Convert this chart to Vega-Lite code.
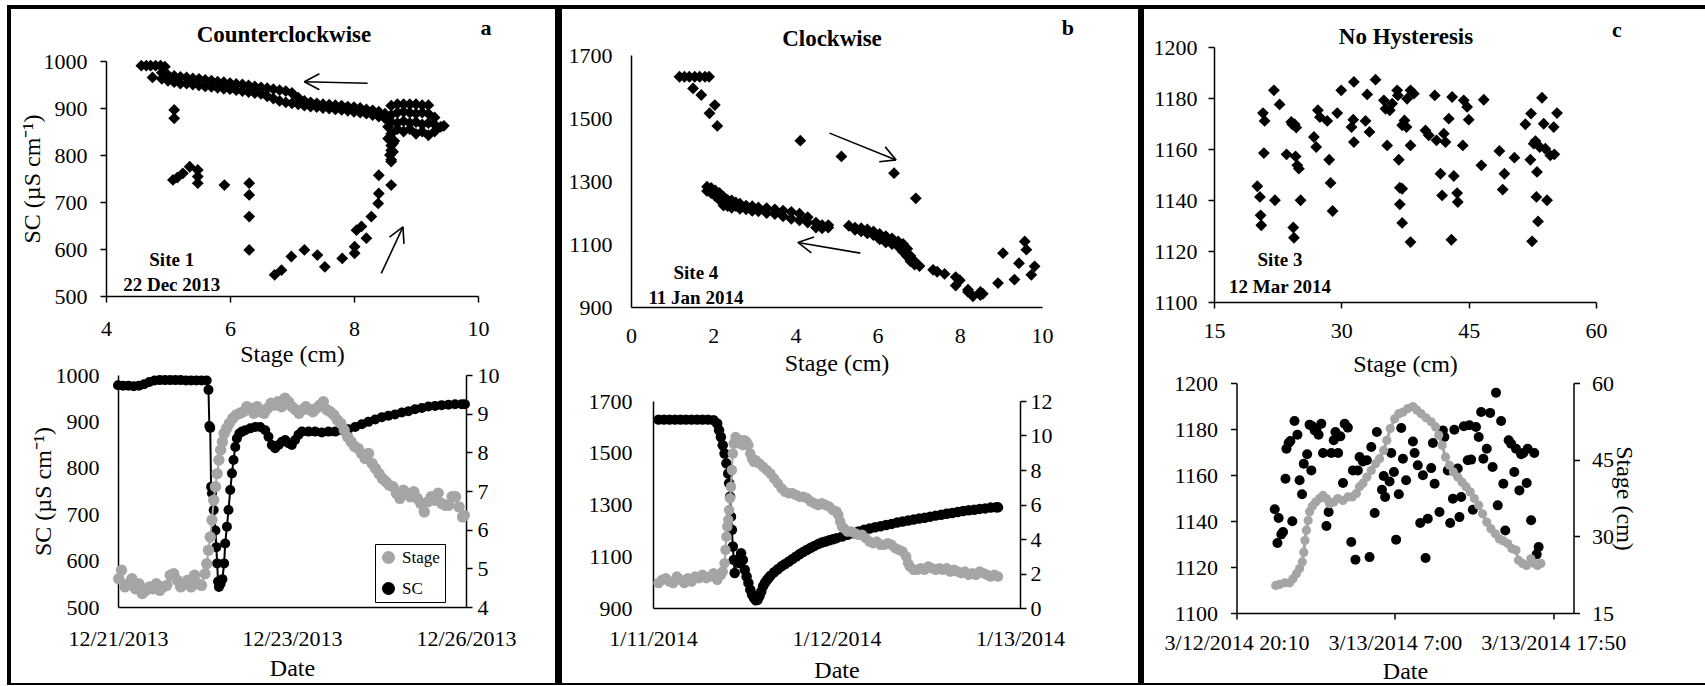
{
  "$schema": "https://vega.github.io/schema/vega-lite/v6.json",
  "padding": {"left": 7, "top": 5, "right": 0, "bottom": 0},
  "background": "white",
  "config": {
    "font": "Liberation Serif",
    "view": {"stroke": null},
    "axis": {"labelFont": "Liberation Serif", "titleFont": "Liberation Serif", "labelFontSize": 22, "titleFontSize": 24, "titleFontWeight": "normal", "labelColor": "black", "titleColor": "black", "domainColor": "black", "tickColor": "black", "domainWidth": 1.5, "tickWidth": 1.5, "grid": false, "labelFlush": false, "labelOverlap": false, "labelBound": false},
    "legend": {"labelFont": "Liberation Serif", "labelFontSize": 17, "labelColor": "black"}
  },
  "spacing": 0,
  "vconcat": [
    {"width": 1698, "height": 4, "view": {"fill": "black"}, "data": {"values": [{}]}, "mark": {"type": "point", "opacity": 0, "size": 0, "strokeWidth": 0}, "encoding": {}},
    {
      "spacing": 0,
      "hconcat": [
        {"width": 4, "height": 674, "view": {"fill": "black"}, "data": {"values": [{}]}, "mark": {"type": "point", "opacity": 0, "size": 0, "strokeWidth": 0}, "encoding": {}},
        {"width": 9, "height": 100, "data": {"values": [{}]}, "mark": {"type": "point", "opacity": 0, "size": 0, "strokeWidth": 0}, "encoding": {}},
        {
          "spacing": 0, "bounds": "flush", "center": true,
          "vconcat": [
            {"width": 10, "height": 52, "data": {"values": [{}]}, "mark": {"type": "point", "opacity": 0, "size": 0, "strokeWidth": 0}, "encoding": {}},
            {
              "width": 372, "height": 235,
              "encoding": {
                "x": {"field": "stage", "type": "quantitative", "scale": {"domain": [4, 10], "nice": false, "zero": false},
                      "axis": {"title": "Stage (cm)", "values": [4, 6, 8, 10], "tickSize": 6, "labelPadding": 16, "titlePadding": 0, "minExtent": 46, "maxExtent": 46}},
                "y": {"field": "sc", "type": "quantitative", "scale": {"domain": [500, 1000], "nice": false, "zero": false},
                      "axis": {"title": "SC (µS cm⁻¹)", "format": "d", "values": [500, 600, 700, 800, 900, 1000], "tickSize": 6, "labelPadding": 13, "titlePadding": 12, "minExtent": 50, "maxExtent": 50}}
              },
              "layer": [
                {
                  "data": {"values": [
                    {"stage":4.57,"sc":990},{"stage":4.65,"sc":990},{"stage":4.72,"sc":990},{"stage":4.8,"sc":990},{"stage":4.88,"sc":990},{"stage":4.95,"sc":988},{"stage":4.75,"sc":965},
                    {"stage":4.9,"sc":975},{"stage":4.9,"sc":962},{"stage":5.0,"sc":970},{"stage":5.0,"sc":958},{"stage":5.1,"sc":968},{"stage":5.1,"sc":955},{"stage":5.2,"sc":966},{"stage":5.2,"sc":952},{"stage":5.3,"sc":965},{"stage":5.3,"sc":952},{"stage":5.4,"sc":963},{"stage":5.4,"sc":950},{"stage":5.5,"sc":962},{"stage":5.5,"sc":948},{"stage":5.6,"sc":960},{"stage":5.6,"sc":946},{"stage":5.7,"sc":958},{"stage":5.7,"sc":945},{"stage":5.8,"sc":956},{"stage":5.8,"sc":943},{"stage":5.9,"sc":955},{"stage":5.9,"sc":941},{"stage":6.0,"sc":953},{"stage":6.0,"sc":940},{"stage":6.1,"sc":951},{"stage":6.1,"sc":938},{"stage":6.2,"sc":950},{"stage":6.2,"sc":936},{"stage":6.3,"sc":948},{"stage":6.3,"sc":934},{"stage":6.4,"sc":946},{"stage":6.4,"sc":932},{"stage":6.5,"sc":944},{"stage":6.5,"sc":930},{"stage":6.6,"sc":942},{"stage":6.6,"sc":925},{"stage":6.7,"sc":940},{"stage":6.7,"sc":920},{"stage":6.8,"sc":938},{"stage":6.8,"sc":915},{"stage":6.9,"sc":936},{"stage":6.9,"sc":912},{"stage":7.0,"sc":932},{"stage":7.0,"sc":910},{"stage":7.1,"sc":922},{"stage":7.1,"sc":908},{"stage":7.2,"sc":915},{"stage":7.2,"sc":905},{"stage":7.3,"sc":912},{"stage":7.3,"sc":903},{"stage":7.4,"sc":910},{"stage":7.4,"sc":902},{"stage":7.5,"sc":908},{"stage":7.5,"sc":900},{"stage":7.6,"sc":907},{"stage":7.6,"sc":899},{"stage":7.7,"sc":906},{"stage":7.7,"sc":897},{"stage":7.8,"sc":905},{"stage":7.8,"sc":896},{"stage":7.9,"sc":903},{"stage":7.9,"sc":894},{"stage":8.0,"sc":902},{"stage":8.0,"sc":892},{"stage":8.1,"sc":900},{"stage":8.1,"sc":890},{"stage":8.2,"sc":897},{"stage":8.2,"sc":888},{"stage":8.3,"sc":895},{"stage":8.3,"sc":885},{"stage":8.4,"sc":892},{"stage":8.4,"sc":882},{"stage":8.5,"sc":888},{"stage":8.5,"sc":878},
                    {"stage":8.6,"sc":905},{"stage":8.7,"sc":908},{"stage":8.8,"sc":908},{"stage":8.9,"sc":908},{"stage":9.0,"sc":908},{"stage":9.1,"sc":906},{"stage":9.2,"sc":906},{"stage":8.6,"sc":885},{"stage":8.7,"sc":890},{"stage":8.8,"sc":892},{"stage":8.9,"sc":890},{"stage":9.0,"sc":888},{"stage":9.1,"sc":890},{"stage":9.2,"sc":888},{"stage":9.3,"sc":880},{"stage":8.6,"sc":870},{"stage":8.7,"sc":868},{"stage":8.8,"sc":872},{"stage":8.9,"sc":868},{"stage":9.0,"sc":870},{"stage":9.1,"sc":865},{"stage":9.2,"sc":868},{"stage":9.3,"sc":865},{"stage":9.4,"sc":860},{"stage":9.45,"sc":862},{"stage":8.7,"sc":855},{"stage":8.8,"sc":850},{"stage":8.9,"sc":855},{"stage":9.0,"sc":845},{"stage":9.1,"sc":850},{"stage":9.2,"sc":842},{"stage":9.3,"sc":850},{"stage":8.55,"sc":860},{"stage":8.6,"sc":845},{"stage":8.65,"sc":830},{"stage":8.55,"sc":835},{"stage":8.6,"sc":820},{"stage":8.6,"sc":810},{"stage":8.58,"sc":800},{"stage":8.6,"sc":790},
                    {"stage":5.1,"sc":896},{"stage":5.1,"sc":878},{"stage":5.08,"sc":747},{"stage":5.15,"sc":752},{"stage":5.24,"sc":761},{"stage":5.35,"sc":775},{"stage":5.48,"sc":768},{"stage":5.48,"sc":754},{"stage":5.48,"sc":740},{"stage":5.91,"sc":736},{"stage":6.31,"sc":740},{"stage":6.31,"sc":715},{"stage":6.31,"sc":669},{"stage":6.31,"sc":598},{"stage":6.72,"sc":545},{"stage":6.83,"sc":555},{"stage":6.99,"sc":584},{"stage":7.2,"sc":598},{"stage":7.41,"sc":587},{"stage":7.53,"sc":562},{"stage":7.81,"sc":580},{"stage":8.01,"sc":591},{"stage":8.01,"sc":605},{"stage":8.04,"sc":640},{"stage":8.12,"sc":648},{"stage":8.2,"sc":623},{"stage":8.28,"sc":669},{"stage":8.39,"sc":697},{"stage":8.4,"sc":718},{"stage":8.4,"sc":757},{"stage":8.6,"sc":736},{"stage":8.6,"sc":786},{"stage":8.63,"sc":807},{"stage":8.63,"sc":825},{"stage":8.57,"sc":835}
                  ]},
                  "mark": {"type": "point", "shape": "diamond", "filled": true, "size": 140, "color": "black", "opacity": 1}
                },
                {
                  "data": {"values": [
                    {"stage":8.22,"sc":952.5,"stage2":7.2,"sc2":956},{"stage":7.2,"sc":956,"stage2":7.442,"sc2":973},{"stage":7.2,"sc":956,"stage2":7.442,"sc2":939},
                    {"stage":8.44,"sc":548,"stage2":8.79,"sc2":647},{"stage":8.79,"sc":647,"stage2":8.806,"sc2":610.9},{"stage":8.79,"sc":647,"stage2":8.572,"sc2":625.3}
                  ]},
                  "mark": {"type": "rule", "color": "black", "strokeWidth": 1.6},
                  "encoding": {"x2": {"field": "stage2"}, "y2": {"field": "sc2"}}
                },
                {
                  "data": {"values": [{"stage":5.06,"sc":576.6,"label":"Site 1"},{"stage":5.06,"sc":523.4,"label":"22 Dec 2013"}]},
                  "mark": {"type": "text", "font": "Liberation Serif", "fontWeight": "bold", "fontSize": 19, "color": "black"},
                  "encoding": {"text": {"field": "label"}}
                },
                {
                  "data": {"values": [{"stage":10.13,"sc":1070,"label":"a"}]},
                  "mark": {"type": "text", "font": "Liberation Serif", "fontWeight": "bold", "fontSize": 22, "color": "black"},
                  "encoding": {"text": {"field": "label"}}
                },
                {
                  "data": {"values": [{"stage":6.87,"sc":1055,"label":"Counterclockwise"}]},
                  "mark": {"type": "text", "font": "Liberation Serif", "fontWeight": "bold", "fontSize": 23, "color": "black"},
                  "encoding": {"text": {"field": "label"}}
                }
              ]
            },
            {"width": 10, "height": 79, "data": {"values": [{}]}, "mark": {"type": "point", "opacity": 0, "size": 0, "strokeWidth": 0}, "encoding": {}},
            {
              "width": 348, "height": 232,
              "encoding": {
                "x": {"field": "obs", "type": "quantitative", "scale": {"domain": [0, 200], "nice": false, "zero": false},
                      "axis": {"title": "Date", "values": [0, 100, 200], "labelExpr": "datum.value == 0 ? '12/21/2013' : datum.value == 100 ? '12/23/2013' : '12/26/2013'", "ticks": false, "tickSize": 0, "labelPadding": 21, "titlePadding": 0, "minExtent": 49, "maxExtent": 49}}
              },
              "layer": [
                {
                  "data": {"values": [
                    {"obs":0,"sc":978},{"obs":3,"sc":977},{"obs":6,"sc":977},{"obs":9,"sc":976},{"obs":12,"sc":977},{"obs":15,"sc":980},{"obs":18,"sc":985},{"obs":21,"sc":988},{"obs":24,"sc":989},{"obs":27,"sc":989},{"obs":30,"sc":989},{"obs":33,"sc":989},{"obs":36,"sc":989},{"obs":39,"sc":988},{"obs":42,"sc":988},{"obs":45,"sc":988},{"obs":48,"sc":988},{"obs":51,"sc":988},{"obs":52,"sc":968},{"obs":52.5,"sc":890},{"obs":53,"sc":886},{"obs":53.5,"sc":759},{"obs":54,"sc":745},{"obs":55,"sc":709},{"obs":56,"sc":665},{"obs":56.5,"sc":629},{"obs":57,"sc":594},{"obs":57.5,"sc":555},{"obs":58,"sc":543},{"obs":59,"sc":550},{"obs":60,"sc":560},{"obs":61,"sc":594},{"obs":61.6,"sc":637},{"obs":62.6,"sc":673},{"obs":63.5,"sc":709},{"obs":64.5,"sc":752},{"obs":65.5,"sc":788},{"obs":66.4,"sc":817},{"obs":67.4,"sc":845},{"obs":68.3,"sc":863},{"obs":69.7,"sc":874},{"obs":71.2,"sc":878},{"obs":73.1,"sc":881},{"obs":76,"sc":885},{"obs":78.9,"sc":888},{"obs":81.7,"sc":888},{"obs":84.6,"sc":881},{"obs":86.5,"sc":867},{"obs":88.4,"sc":849},{"obs":90.3,"sc":842},{"obs":92.3,"sc":849},{"obs":94.2,"sc":856},{"obs":96.1,"sc":860},{"obs":98,"sc":853},{"obs":99.9,"sc":849},{"obs":101.8,"sc":860},{"obs":103.7,"sc":871},{"obs":105.7,"sc":878},{"obs":109.5,"sc":878},{"obs":113.3,"sc":878},{"obs":117.1,"sc":876},{"obs":121,"sc":878},{"obs":124.8,"sc":878},{"obs":128.6,"sc":881},{"obs":132.4,"sc":883},{"obs":136.3,"sc":888},{"obs":140.1,"sc":894},{"obs":143.9,"sc":899},{"obs":147.8,"sc":904},{"obs":151.6,"sc":909},{"obs":155.4,"sc":912},{"obs":159.2,"sc":915},{"obs":163.1,"sc":919},{"obs":166.9,"sc":922},{"obs":170.7,"sc":926},{"obs":174.6,"sc":929},{"obs":178.4,"sc":932},{"obs":182.2,"sc":933},{"obs":186,"sc":935},{"obs":189.9,"sc":936},{"obs":193.7,"sc":937},{"obs":197.5,"sc":937},{"obs":199.4,"sc":937}
                  ]},
                  "encoding": {
                    "y": {"field": "sc", "type": "quantitative", "scale": {"domain": [500, 1000], "nice": false, "zero": false},
                          "axis": {"title": "SC (µS cm⁻¹)", "format": "d", "values": [500, 600, 700, 800, 900, 1000], "ticks": false, "tickSize": 0, "labelPadding": 19, "titlePadding": 13, "minExtent": 50, "maxExtent": 50}}
                  },
                  "layer": [
                    {"mark": {"type": "line", "color": "black", "strokeWidth": 2}},
                    {"mark": {"type": "circle", "size": 100, "opacity": 1},
                     "encoding": {"color": {"datum": "SC", "type": "nominal", "scale": {"domain": ["Stage", "SC"], "range": ["#a5a5a5", "#000000"]},
                       "legend": {"title": null, "orient": "none", "legendX": 368, "legendY": 539, "strokeColor": "black", "fillColor": "white", "padding": 5, "rowPadding": 13, "symbolType": "circle", "symbolSize": 170, "symbolStrokeWidth": 0, "labelOffset": 5}}}}
                  ]
                },
                {
                  "data": {"values": [
                    {"obs":0.4,"stage":4.73},{"obs":2,"stage":4.95},{"obs":4,"stage":4.52},{"obs":6,"stage":4.6},{"obs":8,"stage":4.73},{"obs":10,"stage":4.47},{"obs":12,"stage":4.6},{"obs":14,"stage":4.35},{"obs":16,"stage":4.43},{"obs":18,"stage":4.52},{"obs":20,"stage":4.47},{"obs":22,"stage":4.6},{"obs":24,"stage":4.43},{"obs":26,"stage":4.52},{"obs":28,"stage":4.56},{"obs":30,"stage":4.82},{"obs":32,"stage":4.86},{"obs":34,"stage":4.69},{"obs":36,"stage":4.52},{"obs":38,"stage":4.6},{"obs":40,"stage":4.69},{"obs":42,"stage":4.52},{"obs":44,"stage":4.82},{"obs":46,"stage":4.6},{"obs":48,"stage":4.56},{"obs":50,"stage":4.86},{"obs":51,"stage":5.12},{"obs":52,"stage":5.47},{"obs":53,"stage":5.81},{"obs":54,"stage":6.25},{"obs":55,"stage":6.76},{"obs":56,"stage":7.11},{"obs":57,"stage":7.45},{"obs":58,"stage":7.8},{"obs":59,"stage":8.06},{"obs":60,"stage":8.27},{"obs":61,"stage":8.49},{"obs":62.5,"stage":8.62},{"obs":64,"stage":8.75},{"obs":66,"stage":8.88},{"obs":68,"stage":8.97},{"obs":70,"stage":9.01},{"obs":72,"stage":9.05},{"obs":74,"stage":9.18},{"obs":76,"stage":9.14},{"obs":78,"stage":9.01},{"obs":80,"stage":9.18},{"obs":82,"stage":9.05},{"obs":84,"stage":9.01},{"obs":86,"stage":9.14},{"obs":88,"stage":9.27},{"obs":90,"stage":9.22},{"obs":92,"stage":9.31},{"obs":94,"stage":9.18},{"obs":96,"stage":9.4},{"obs":98,"stage":9.31},{"obs":100,"stage":9.18},{"obs":102,"stage":9.1},{"obs":104,"stage":9.01},{"obs":106,"stage":9.1},{"obs":108,"stage":9.18},{"obs":110,"stage":9.1},{"obs":112,"stage":9.05},{"obs":114,"stage":9.14},{"obs":116,"stage":9.22},{"obs":118,"stage":9.31},{"obs":120,"stage":9.1},{"obs":122,"stage":9.05},{"obs":124,"stage":8.97},{"obs":126,"stage":8.84},{"obs":128,"stage":8.75},{"obs":130,"stage":8.58},{"obs":132,"stage":8.4},{"obs":134,"stage":8.27},{"obs":136,"stage":8.15},{"obs":138,"stage":8.1},{"obs":140,"stage":7.97},{"obs":142,"stage":7.84},{"obs":144,"stage":7.97},{"obs":146,"stage":7.71},{"obs":148,"stage":7.58},{"obs":150,"stage":7.45},{"obs":152,"stage":7.32},{"obs":154,"stage":7.24},{"obs":156,"stage":7.15},{"obs":158,"stage":7.11},{"obs":160,"stage":6.94},{"obs":162,"stage":6.81},{"obs":164,"stage":7.02},{"obs":166,"stage":6.94},{"obs":168,"stage":6.85},{"obs":170,"stage":6.98},{"obs":172,"stage":6.81},{"obs":174,"stage":6.68},{"obs":176,"stage":6.46},{"obs":178,"stage":6.72},{"obs":180,"stage":6.85},{"obs":182,"stage":6.76},{"obs":184,"stage":6.94},{"obs":186,"stage":6.68},{"obs":188,"stage":6.63},{"obs":190,"stage":6.63},{"obs":192,"stage":6.85},{"obs":194,"stage":6.85},{"obs":196,"stage":6.59},{"obs":198,"stage":6.33},{"obs":199,"stage":6.37}
                  ]},
                  "encoding": {
                    "y": {"field": "stage", "type": "quantitative", "scale": {"domain": [4, 10], "nice": false, "zero": false},
                          "axis": {"orient": "right", "title": null, "values": [4, 5, 6, 7, 8, 9, 10], "tickSize": 6, "labelPadding": 5}}
                  },
                  "layer": [
                    {"mark": {"type": "line", "color": "#a5a5a5", "strokeWidth": 2}},
                    {"mark": {"type": "circle", "size": 130, "opacity": 1}, "encoding": {"color": {"datum": "Stage", "type": "nominal"}}}
                  ]
                }
              ],
              "resolve": {"scale": {"y": "independent"}}
            }
          ]
        },
        {"width": 38, "height": 100, "data": {"values": [{}]}, "mark": {"type": "point", "opacity": 0, "size": 0, "strokeWidth": 0}, "encoding": {}},
        {"width": 7, "height": 674, "view": {"fill": "black"}, "data": {"values": [{}]}, "mark": {"type": "point", "opacity": 0, "size": 0, "strokeWidth": 0}, "encoding": {}},
        {"width": 6, "height": 100, "data": {"values": [{}]}, "mark": {"type": "point", "opacity": 0, "size": 0, "strokeWidth": 0}, "encoding": {}},
        {
          "spacing": 0, "bounds": "flush", "center": true,
          "vconcat": [
            {"width": 10, "height": 46, "data": {"values": [{}]}, "mark": {"type": "point", "opacity": 0, "size": 0, "strokeWidth": 0}, "encoding": {}},
            {
              "width": 411, "height": 252,
              "encoding": {
                "x": {"field": "stage", "type": "quantitative", "scale": {"domain": [0, 10], "nice": false, "zero": false},
                      "axis": {"title": "Stage (cm)", "values": [0, 2, 4, 6, 8, 10], "ticks": false, "tickSize": 0, "labelPadding": 18, "titlePadding": 0, "minExtent": 44, "maxExtent": 44}},
                "y": {"field": "sc", "type": "quantitative", "scale": {"domain": [900, 1700], "nice": false, "zero": false},
                      "axis": {"title": null, "format": "d", "values": [900, 1100, 1300, 1500, 1700], "ticks": false, "tickSize": 0, "labelPadding": 19}}
              },
              "layer": [
                {
                  "data": {"values": [
                    {"stage":1.18,"sc":1631},{"stage":1.3,"sc":1631},{"stage":1.42,"sc":1631},{"stage":1.55,"sc":1631},{"stage":1.67,"sc":1631},{"stage":1.8,"sc":1631},{"stage":1.9,"sc":1631},{"stage":1.51,"sc":1594},{"stage":1.71,"sc":1573},{"stage":1.91,"sc":1515},{"stage":2.04,"sc":1541},{"stage":2.1,"sc":1475},{"stage":4.12,"sc":1428},{"stage":5.12,"sc":1378},{"stage":6.4,"sc":1325},{"stage":6.93,"sc":1245},
                    {"stage":1.85,"sc":1282},{"stage":1.85,"sc":1268},{"stage":1.95,"sc":1278},{"stage":1.95,"sc":1262},{"stage":2.05,"sc":1270},{"stage":2.05,"sc":1252},{"stage":2.15,"sc":1262},{"stage":2.15,"sc":1240},{"stage":2.25,"sc":1250},{"stage":2.25,"sc":1222},{"stage":2.35,"sc":1240},{"stage":2.35,"sc":1220},{"stage":2.45,"sc":1238},{"stage":2.45,"sc":1215},{"stage":2.55,"sc":1232},{"stage":2.55,"sc":1220},{"stage":2.65,"sc":1228},{"stage":2.65,"sc":1212},{"stage":2.8,"sc":1222},{"stage":2.8,"sc":1210},{"stage":2.95,"sc":1220},{"stage":2.95,"sc":1205},{"stage":3.1,"sc":1216},{"stage":3.1,"sc":1204},{"stage":3.3,"sc":1214},{"stage":3.3,"sc":1198},{"stage":3.5,"sc":1210},{"stage":3.5,"sc":1195},{"stage":3.7,"sc":1206},{"stage":3.7,"sc":1188},{"stage":3.9,"sc":1202},{"stage":3.9,"sc":1180},{"stage":4.1,"sc":1196},{"stage":4.1,"sc":1175},{"stage":4.3,"sc":1185},{"stage":4.3,"sc":1168},{"stage":4.5,"sc":1168},{"stage":4.5,"sc":1152},{"stage":4.65,"sc":1160},{"stage":4.65,"sc":1150},{"stage":4.8,"sc":1160},{"stage":4.8,"sc":1152},
                    {"stage":5.3,"sc":1158},{"stage":5.45,"sc":1152},{"stage":5.45,"sc":1145},{"stage":5.6,"sc":1150},{"stage":5.6,"sc":1140},{"stage":5.75,"sc":1146},{"stage":5.75,"sc":1134},{"stage":5.9,"sc":1140},{"stage":5.9,"sc":1128},{"stage":6.05,"sc":1132},{"stage":6.05,"sc":1115},{"stage":6.2,"sc":1125},{"stage":6.2,"sc":1105},{"stage":6.35,"sc":1118},{"stage":6.35,"sc":1100},{"stage":6.5,"sc":1108},{"stage":6.5,"sc":1092},{"stage":6.62,"sc":1100},{"stage":6.62,"sc":1075},{"stage":6.72,"sc":1085},{"stage":6.72,"sc":1060},{"stage":6.8,"sc":1062},{"stage":6.8,"sc":1045},{"stage":6.9,"sc":1045},{"stage":6.9,"sc":1035},{"stage":7.02,"sc":1030},{"stage":7.35,"sc":1018},{"stage":7.45,"sc":1012},{"stage":7.63,"sc":1005},{"stage":7.9,"sc":995},{"stage":7.9,"sc":968},{"stage":8.0,"sc":985},{"stage":8.2,"sc":955},{"stage":8.2,"sc":948},{"stage":8.32,"sc":934},{"stage":8.5,"sc":948},{"stage":8.5,"sc":938},{"stage":8.56,"sc":942},{"stage":8.93,"sc":976},{"stage":9.05,"sc":1071},{"stage":9.33,"sc":987},{"stage":9.44,"sc":1039},{"stage":9.58,"sc":1108},{"stage":9.62,"sc":1082},{"stage":9.74,"sc":1002},{"stage":9.82,"sc":1029}
                  ]},
                  "mark": {"type": "point", "shape": "diamond", "filled": true, "size": 140, "color": "black", "opacity": 1}
                },
                {
                  "data": {"values": [
                    {"stage":4.83,"sc":1452,"stage2":6.45,"sc2":1367},{"stage":6.45,"sc":1367,"stage2":6.039,"sc2":1361.3},{"stage":6.45,"sc":1367,"stage2":6.185,"sc2":1408.3},
                    {"stage":5.58,"sc":1071,"stage2":4.06,"sc2":1105},{"stage":4.06,"sc":1105,"stage2":4.454,"sc2":1122.2},{"stage":4.06,"sc":1105,"stage2":4.388,"sc2":1072.1}
                  ]},
                  "mark": {"type": "rule", "color": "black", "strokeWidth": 1.6},
                  "encoding": {"x2": {"field": "stage2"}, "y2": {"field": "sc2"}}
                },
                {
                  "data": {"values": [{"stage":1.58,"sc":1008,"label":"Site 4"},{"stage":1.58,"sc":928.6,"label":"11 Jan 2014"}]},
                  "mark": {"type": "text", "font": "Liberation Serif", "fontWeight": "bold", "fontSize": 19, "color": "black"},
                  "encoding": {"text": {"field": "label"}}
                },
                {
                  "data": {"values": [{"stage":10.63,"sc":1785.7,"label":"b"}]},
                  "mark": {"type": "text", "font": "Liberation Serif", "fontWeight": "bold", "fontSize": 22, "color": "black"},
                  "encoding": {"text": {"field": "label"}}
                },
                {
                  "data": {"values": [{"stage":4.89,"sc":1750,"label":"Clockwise"}]},
                  "mark": {"type": "text", "font": "Liberation Serif", "fontWeight": "bold", "fontSize": 23, "color": "black"},
                  "encoding": {"text": {"field": "label"}}
                }
              ]
            },
            {"width": 10, "height": 94, "data": {"values": [{}]}, "mark": {"type": "point", "opacity": 0, "size": 0, "strokeWidth": 0}, "encoding": {}},
            {
              "width": 367, "height": 207,
              "encoding": {
                "x": {"field": "obs", "type": "quantitative", "scale": {"domain": [0, 200], "nice": false, "zero": false},
                      "axis": {"title": "Date", "values": [0, 100, 200], "labelExpr": "datum.value == 0 ? '1/11/2014' : datum.value == 100 ? '1/12/2014' : '1/13/2014'", "ticks": false, "tickSize": 0, "labelPadding": 20, "titlePadding": 0, "minExtent": 50, "maxExtent": 50}}
              },
              "layer": [
                {
                  "data": {"values": [
                    {"obs":3,"sc":1628},{"obs":6,"sc":1628},{"obs":9,"sc":1628},{"obs":12,"sc":1628},{"obs":15,"sc":1628},{"obs":18,"sc":1628},{"obs":21,"sc":1628},{"obs":24,"sc":1628},{"obs":27,"sc":1628},{"obs":30,"sc":1628},{"obs":33,"sc":1626},{"obs":35,"sc":1613},{"obs":36,"sc":1587},{"obs":37,"sc":1561},{"obs":38,"sc":1529},{"obs":39,"sc":1497},{"obs":40,"sc":1459},{"obs":41,"sc":1420},{"obs":41.5,"sc":1382},{"obs":42,"sc":1330},{"obs":42.5,"sc":1253},{"obs":43,"sc":1202},{"obs":43.5,"sc":1138},{"obs":44,"sc":1086},{"obs":44.5,"sc":1035},{"obs":45.5,"sc":1086},{"obs":47,"sc":1074},{"obs":48,"sc":1112},{"obs":49,"sc":1086},{"obs":50,"sc":1048},{"obs":51,"sc":1022},{"obs":52,"sc":997},{"obs":53,"sc":971},{"obs":54,"sc":952},{"obs":55,"sc":939},{"obs":56,"sc":930},{"obs":57,"sc":932},{"obs":58,"sc":945},{"obs":59,"sc":964},{"obs":60,"sc":984},{"obs":61,"sc":997},{"obs":62,"sc":1007},{"obs":63,"sc":1016},{"obs":64,"sc":1025},{"obs":66,"sc":1038},{"obs":68,"sc":1050},{"obs":70,"sc":1061},{"obs":72,"sc":1070},{"obs":74,"sc":1080},{"obs":76,"sc":1089},{"obs":78,"sc":1099},{"obs":80,"sc":1109},{"obs":82,"sc":1117},{"obs":84,"sc":1125},{"obs":86,"sc":1133},{"obs":88,"sc":1140},{"obs":90,"sc":1147},{"obs":92,"sc":1153},{"obs":94,"sc":1157},{"obs":96,"sc":1162},{"obs":98,"sc":1166},{"obs":100,"sc":1170},{"obs":103,"sc":1176},{"obs":106,"sc":1183},{"obs":109,"sc":1189},{"obs":112,"sc":1196},{"obs":115,"sc":1202},{"obs":118,"sc":1207},{"obs":121,"sc":1212},{"obs":124,"sc":1216},{"obs":127,"sc":1221},{"obs":130,"sc":1225},{"obs":133,"sc":1230},{"obs":136,"sc":1234},{"obs":139,"sc":1238},{"obs":142,"sc":1242},{"obs":145,"sc":1246},{"obs":148,"sc":1249},{"obs":151,"sc":1253},{"obs":154,"sc":1257},{"obs":157,"sc":1260},{"obs":160,"sc":1264},{"obs":163,"sc":1267},{"obs":166,"sc":1271},{"obs":169,"sc":1275},{"obs":172,"sc":1278},{"obs":175,"sc":1280},{"obs":178,"sc":1283},{"obs":181,"sc":1285},{"obs":184,"sc":1288},{"obs":187,"sc":1289},{"obs":188,"sc":1289}
                  ]},
                  "encoding": {
                    "y": {"field": "sc", "type": "quantitative", "scale": {"domain": [900, 1700], "nice": false, "zero": false},
                          "axis": {"title": null, "format": "d", "values": [900, 1100, 1300, 1500, 1700], "ticks": false, "tickSize": 0, "labelPadding": 21}}
                  },
                  "layer": [
                    {"mark": {"type": "line", "color": "black", "strokeWidth": 2}},
                    {"mark": {"type": "circle", "size": 110, "opacity": 1, "color": "black"}}
                  ]
                },
                {
                  "data": {"values": [
                    {"obs":3,"stage":1.45},{"obs":5,"stage":1.64},{"obs":7,"stage":1.73},{"obs":9,"stage":1.54},{"obs":11,"stage":1.45},{"obs":13,"stage":1.83},{"obs":15,"stage":1.64},{"obs":17,"stage":1.45},{"obs":19,"stage":1.73},{"obs":21,"stage":1.54},{"obs":23,"stage":1.83},{"obs":25,"stage":1.73},{"obs":27,"stage":1.93},{"obs":29,"stage":1.73},{"obs":31,"stage":1.83},{"obs":33,"stage":2.02},{"obs":35,"stage":1.64},{"obs":37,"stage":1.93},{"obs":38,"stage":2.12},{"obs":39,"stage":2.6},{"obs":39.5,"stage":3.37},{"obs":40,"stage":4.14},{"obs":40.5,"stage":4.72},{"obs":41,"stage":5.11},{"obs":41.5,"stage":5.68},{"obs":42,"stage":6.36},{"obs":42.5,"stage":7.03},{"obs":43,"stage":8.0},{"obs":43.5,"stage":8.96},{"obs":44,"stage":9.54},{"obs":45,"stage":9.92},{"obs":46,"stage":9.73},{"obs":47,"stage":9.54},{"obs":48,"stage":9.73},{"obs":49,"stage":9.44},{"obs":50,"stage":9.73},{"obs":51,"stage":9.63},{"obs":52,"stage":9.44},{"obs":53,"stage":8.96},{"obs":54,"stage":8.67},{"obs":55,"stage":8.48},{"obs":56,"stage":8.57},{"obs":58,"stage":8.38},{"obs":60,"stage":8.19},{"obs":62,"stage":8.0},{"obs":64,"stage":7.8},{"obs":66,"stage":7.51},{"obs":68,"stage":7.23},{"obs":70,"stage":6.94},{"obs":72,"stage":6.74},{"obs":74,"stage":6.65},{"obs":76,"stage":6.65},{"obs":78,"stage":6.55},{"obs":80,"stage":6.45},{"obs":82,"stage":6.45},{"obs":84,"stage":6.36},{"obs":86,"stage":6.17},{"obs":88,"stage":6.07},{"obs":90,"stage":5.97},{"obs":92,"stage":6.07},{"obs":94,"stage":5.97},{"obs":96,"stage":5.88},{"obs":98,"stage":5.68},{"obs":100,"stage":5.59},{"obs":101,"stage":5.39},{"obs":102,"stage":5.01},{"obs":103,"stage":4.72},{"obs":104,"stage":4.62},{"obs":106,"stage":4.43},{"obs":108,"stage":4.43},{"obs":110,"stage":4.34},{"obs":112,"stage":4.24},{"obs":114,"stage":4.24},{"obs":116,"stage":4.05},{"obs":118,"stage":3.85},{"obs":120,"stage":3.76},{"obs":122,"stage":3.85},{"obs":124,"stage":3.66},{"obs":126,"stage":3.66},{"obs":128,"stage":3.76},{"obs":130,"stage":3.66},{"obs":132,"stage":3.47},{"obs":134,"stage":3.37},{"obs":136,"stage":3.28},{"obs":138,"stage":2.99},{"obs":139,"stage":2.6},{"obs":140,"stage":2.41},{"obs":142,"stage":2.22},{"obs":144,"stage":2.22},{"obs":146,"stage":2.31},{"obs":148,"stage":2.22},{"obs":150,"stage":2.41},{"obs":152,"stage":2.31},{"obs":154,"stage":2.22},{"obs":156,"stage":2.31},{"obs":158,"stage":2.22},{"obs":160,"stage":2.31},{"obs":162,"stage":2.12},{"obs":164,"stage":2.22},{"obs":166,"stage":2.12},{"obs":168,"stage":2.02},{"obs":170,"stage":2.12},{"obs":172,"stage":1.93},{"obs":174,"stage":2.02},{"obs":176,"stage":1.93},{"obs":178,"stage":2.12},{"obs":180,"stage":2.02},{"obs":182,"stage":1.93},{"obs":184,"stage":1.83},{"obs":186,"stage":1.93},{"obs":188,"stage":1.83}
                  ]},
                  "encoding": {
                    "y": {"field": "stage", "type": "quantitative", "scale": {"domain": [0, 12], "nice": false, "zero": false},
                          "axis": {"orient": "right", "title": null, "values": [0, 2, 4, 6, 8, 10, 12], "tickSize": 6, "labelPadding": 4}}
                  },
                  "layer": [
                    {"mark": {"type": "line", "color": "#a5a5a5", "strokeWidth": 2}},
                    {"mark": {"type": "circle", "size": 110, "opacity": 1, "color": "#a5a5a5"}}
                  ]
                }
              ],
              "resolve": {"scale": {"y": "independent"}}
            }
          ]
        },
        {"width": 63, "height": 100, "data": {"values": [{}]}, "mark": {"type": "point", "opacity": 0, "size": 0, "strokeWidth": 0}, "encoding": {}},
        {"width": 6, "height": 674, "view": {"fill": "black"}, "data": {"values": [{}]}, "mark": {"type": "point", "opacity": 0, "size": 0, "strokeWidth": 0}, "encoding": {}},
        {"width": 9, "height": 100, "data": {"values": [{}]}, "mark": {"type": "point", "opacity": 0, "size": 0, "strokeWidth": 0}, "encoding": {}},
        {
          "spacing": 0, "bounds": "flush", "center": true,
          "vconcat": [
            {"width": 10, "height": 38, "data": {"values": [{}]}, "mark": {"type": "point", "opacity": 0, "size": 0, "strokeWidth": 0}, "encoding": {}},
            {
              "width": 382, "height": 255,
              "encoding": {
                "x": {"field": "stage", "type": "quantitative", "scale": {"domain": [15, 60], "nice": false, "zero": false},
                      "axis": {"title": "Stage (cm)", "values": [15, 30, 45, 60], "tickSize": 6, "labelPadding": 12, "titlePadding": 0, "minExtent": 50, "maxExtent": 50}},
                "y": {"field": "sc", "type": "quantitative", "scale": {"domain": [1100, 1200], "nice": false, "zero": false},
                      "axis": {"title": null, "format": "d", "values": [1100, 1120, 1140, 1160, 1180, 1200], "tickSize": 6, "labelPadding": 11}}
              },
              "layer": [
                {
                  "data": {"values": [
                    {"stage":20.1,"sc":1145.4},{"stage":20.41,"sc":1141.2},{"stage":20.49,"sc":1134},{"stage":20.57,"sc":1130.1},{"stage":20.77,"sc":1174.1},{"stage":20.96,"sc":1171},{"stage":20.88,"sc":1158.4},{"stage":22.06,"sc":1183},{"stage":22.18,"sc":1139.9},{"stage":22.73,"sc":1177.5},{"stage":23.55,"sc":1157.9},{"stage":24.1,"sc":1170.6},{"stage":24.22,"sc":1169.7},{"stage":24.34,"sc":1129.2},{"stage":24.42,"sc":1125.2},{"stage":24.49,"sc":1169.7},{"stage":24.61,"sc":1157.1},{"stage":24.69,"sc":1168.4},{"stage":24.81,"sc":1153.6},{"stage":25.0,"sc":1152.3},{"stage":25.2,"sc":1139.9},{"stage":26.77,"sc":1164.7},{"stage":27.04,"sc":1160.8},{"stage":27.24,"sc":1175.2},{"stage":27.48,"sc":1172.5},{"stage":28.34,"sc":1171},{"stage":28.57,"sc":1155.8},{"stage":28.73,"sc":1146.7},{"stage":28.97,"sc":1135.7},{"stage":29.52,"sc":1174.1},{"stage":29.99,"sc":1183},{"stage":31.2,"sc":1168.6},{"stage":31.4,"sc":1171.5},{"stage":31.48,"sc":1162.7},{"stage":31.48,"sc":1186.3},{"stage":32.85,"sc":1171},{"stage":33.05,"sc":1181.4},{"stage":33.32,"sc":1166.7},{"stage":34.03,"sc":1187.2},{"stage":35.01,"sc":1179.1},{"stage":35.2,"sc":1175.8},{"stage":35.4,"sc":1161.4},{"stage":35.71,"sc":1175.2},{"stage":35.99,"sc":1177.8},{"stage":36.58,"sc":1183},{"stage":36.66,"sc":1181},{"stage":36.77,"sc":1155.8},{"stage":36.89,"sc":1144.8},{"stage":37.17,"sc":1144.4},{"stage":36.89,"sc":1138.3},{"stage":37.17,"sc":1131},{"stage":37.17,"sc":1169.3},{"stage":37.44,"sc":1171.2},{"stage":37.68,"sc":1168.6},{"stage":37.75,"sc":1179.7},{"stage":38.15,"sc":1123.5},{"stage":38.15,"sc":1161.4},{"stage":38.15,"sc":1183},{"stage":38.54,"sc":1181.7},{"stage":39.91,"sc":1167.3},{"stage":40.3,"sc":1165.4},{"stage":41.01,"sc":1181},{"stage":41.21,"sc":1163.4},{"stage":41.68,"sc":1150.3},{"stage":41.87,"sc":1141.8},{"stage":42.07,"sc":1166},{"stage":42.27,"sc":1162.7},{"stage":42.66,"sc":1171.9},{"stage":42.97,"sc":1124.4},{"stage":43.05,"sc":1180.4},{"stage":43.25,"sc":1149.4},{"stage":43.64,"sc":1142.7},{"stage":43.72,"sc":1139.2},{"stage":44.31,"sc":1161.4},{"stage":44.42,"sc":1179.1},{"stage":44.82,"sc":1176.5},{"stage":45.01,"sc":1171.5},{"stage":46.5,"sc":1153.6},{"stage":46.78,"sc":1179.3},{"stage":48.62,"sc":1159.2},{"stage":49.01,"sc":1144.1},{"stage":49.21,"sc":1150.3},{"stage":50.39,"sc":1156.6},{"stage":51.68,"sc":1169.7},{"stage":52.27,"sc":1155.8},{"stage":52.35,"sc":1173.9},{"stage":52.47,"sc":1123.8},{"stage":52.66,"sc":1162.1},{"stage":52.86,"sc":1163.1},{"stage":53.05,"sc":1151},{"stage":53.17,"sc":1131.6},{"stage":52.98,"sc":1141.2},{"stage":53.64,"sc":1180.1},{"stage":53.84,"sc":1169.9},{"stage":54.03,"sc":1160.1},{"stage":54.23,"sc":1139.9},{"stage":54.62,"sc":1157.5},{"stage":55.02,"sc":1168.6},{"stage":55.09,"sc":1157.9},{"stage":55.41,"sc":1174.1},{"stage":53.37,"sc":1160.8}
                  ]},
                  "mark": {"type": "point", "shape": "diamond", "filled": true, "size": 140, "color": "black", "opacity": 1}
                },
                {
                  "data": {"values": [{"stage":22.77,"sc":1116.5,"label":"Site 3"},{"stage":22.77,"sc":1105.9,"label":"12 Mar 2014"}]},
                  "mark": {"type": "text", "font": "Liberation Serif", "fontWeight": "bold", "fontSize": 19, "color": "black"},
                  "encoding": {"text": {"field": "label"}}
                },
                {
                  "data": {"values": [{"stage":62.47,"sc":1206.7,"label":"c"}]},
                  "mark": {"type": "text", "font": "Liberation Serif", "fontWeight": "bold", "fontSize": 22, "color": "black"},
                  "encoding": {"text": {"field": "label"}}
                },
                {
                  "data": {"values": [{"stage":37.62,"sc":1203.9,"label":"No Hysteresis"}]},
                  "mark": {"type": "text", "font": "Liberation Serif", "fontWeight": "bold", "fontSize": 23, "color": "black"},
                  "encoding": {"text": {"field": "label"}}
                }
              ]
            },
            {"width": 10, "height": 81, "data": {"values": [{}]}, "mark": {"type": "point", "opacity": 0, "size": 0, "strokeWidth": 0}, "encoding": {}},
            {
              "width": 337, "height": 230,
              "encoding": {
                "x": {"field": "time", "type": "temporal",
                      "scale": {"domain": [{"year": 2014, "month": 3, "date": 12, "hours": 20, "minutes": 10}, {"year": 2014, "month": 3, "date": 13, "hours": 19, "minutes": 13}]},
                      "axis": {"title": "Date", "values": [{"year": 2014, "month": 3, "date": 12, "hours": 20, "minutes": 10}, {"year": 2014, "month": 3, "date": 13, "hours": 7, "minutes": 0}, {"year": 2014, "month": 3, "date": 13, "hours": 17, "minutes": 50}],
                               "labelExpr": "timeFormat(datum.value, '%-m/%-d/%Y %-H:%M')", "tickSize": 6, "labelPadding": 13, "titlePadding": 0, "minExtent": 46, "maxExtent": 46}}
              },
              "layer": [
                {
                  "data": {"values": [
                    {"time":"2014-03-12T22:47","sc":1145.1},{"time":"2014-03-12T23:03","sc":1141.3},{"time":"2014-03-12T22:58","sc":1130.4},{"time":"2014-03-12T23:14","sc":1134.2},{"time":"2014-03-12T23:21","sc":1135.2},{"time":"2014-03-12T23:31","sc":1158.4},{"time":"2014-03-12T23:35","sc":1171.4},{"time":"2014-03-12T23:44","sc":1173.9},{"time":"2014-03-12T23:51","sc":1174.8},{"time":"2014-03-12T23:59","sc":1139.9},
                    {"time":"2014-03-13T00:08","sc":1183.5},{"time":"2014-03-13T00:20","sc":1177.5},{"time":"2014-03-13T00:29","sc":1157.7},{"time":"2014-03-13T00:39","sc":1151.6},{"time":"2014-03-13T00:46","sc":1164.9},{"time":"2014-03-13T01:00","sc":1169.0},{"time":"2014-03-13T01:10","sc":1181.9},{"time":"2014-03-13T01:17","sc":1162.0},{"time":"2014-03-13T01:21","sc":1181.2},{"time":"2014-03-13T01:31","sc":1179.4},{"time":"2014-03-13T01:38","sc":1180.1},{"time":"2014-03-13T01:47","sc":1177.5},{"time":"2014-03-13T01:58","sc":1182.3},{"time":"2014-03-13T02:05","sc":1169.6},{"time":"2014-03-13T02:19","sc":1137.8},{"time":"2014-03-13T02:28","sc":1143.9},{"time":"2014-03-13T02:39","sc":1169.6},{"time":"2014-03-13T02:49","sc":1175.1},{"time":"2014-03-13T02:56","sc":1178.7},{"time":"2014-03-13T03:07","sc":1169.6},{"time":"2014-03-13T03:16","sc":1176.8},{"time":"2014-03-13T03:27","sc":1156.5},{"time":"2014-03-13T03:34","sc":1182.3},{"time":"2014-03-13T03:47","sc":1180.6},{"time":"2014-03-13T04:01","sc":1130.9},{"time":"2014-03-13T04:08","sc":1162.0},{"time":"2014-03-13T04:18","sc":1123.2},{"time":"2014-03-13T04:28","sc":1162.0},{"time":"2014-03-13T04:35","sc":1167.8},{"time":"2014-03-13T04:49","sc":1165.9},{"time":"2014-03-13T05:05","sc":1166.4},{"time":"2014-03-13T05:16","sc":1124.3},{"time":"2014-03-13T05:23","sc":1172.2},{"time":"2014-03-13T05:37","sc":1143.5},{"time":"2014-03-13T05:46","sc":1178.7},{"time":"2014-03-13T06:07","sc":1153.6},{"time":"2014-03-13T06:14","sc":1159.6},{"time":"2014-03-13T06:20","sc":1150.4},{"time":"2014-03-13T06:38","sc":1157.2},{"time":"2014-03-13T06:45","sc":1169.6},{"time":"2014-03-13T06:56","sc":1161.3},{"time":"2014-03-13T07:05","sc":1131.9},{"time":"2014-03-13T07:16","sc":1151.6},{"time":"2014-03-13T07:26","sc":1180.4},{"time":"2014-03-13T07:33","sc":1167.1},{"time":"2014-03-13T07:46","sc":1157.7},{"time":"2014-03-13T08:14","sc":1174.6},{"time":"2014-03-13T08:21","sc":1169.6},{"time":"2014-03-13T08:34","sc":1164.2},{"time":"2014-03-13T08:44","sc":1139.1},{"time":"2014-03-13T08:55","sc":1159.9},{"time":"2014-03-13T09:06","sc":1123.9},{"time":"2014-03-13T09:15","sc":1141.0},{"time":"2014-03-13T09:29","sc":1163.0},{"time":"2014-03-13T09:36","sc":1173.9},{"time":"2014-03-13T09:43","sc":1156.2},{"time":"2014-03-13T10:03","sc":1143.9},{"time":"2014-03-13T10:17","sc":1179.4},{"time":"2014-03-13T10:23","sc":1176.5},{"time":"2014-03-13T10:37","sc":1162.0},{"time":"2014-03-13T10:47","sc":1139.1},{"time":"2014-03-13T10:58","sc":1149.7},{"time":"2014-03-13T11:04","sc":1179.7},{"time":"2014-03-13T11:18","sc":1162.8},{"time":"2014-03-13T11:25","sc":1141.7},{"time":"2014-03-13T11:32","sc":1150.4},{"time":"2014-03-13T11:43","sc":1181.2},{"time":"2014-03-13T11:59","sc":1166.4},{"time":"2014-03-13T12:06","sc":1181.6},{"time":"2014-03-13T12:13","sc":1166.7},{"time":"2014-03-13T12:20","sc":1144.9},{"time":"2014-03-13T12:33","sc":1180.9},{"time":"2014-03-13T12:44","sc":1176.5},{"time":"2014-03-13T12:54","sc":1187.4},{"time":"2014-03-13T13:03","sc":1167.1},{"time":"2014-03-13T13:17","sc":1171.4},{"time":"2014-03-13T13:31","sc":1187.0},{"time":"2014-03-13T13:41","sc":1163.5},{"time":"2014-03-13T13:55","sc":1195.8},{"time":"2014-03-13T14:02","sc":1146.8},{"time":"2014-03-13T14:16","sc":1183.5},{"time":"2014-03-13T14:25","sc":1156.2},{"time":"2014-03-13T14:33","sc":1135.9},{"time":"2014-03-13T14:47","sc":1175.1},{"time":"2014-03-13T14:57","sc":1173.6},{"time":"2014-03-13T15:10","sc":1161.3},{"time":"2014-03-13T15:17","sc":1171.4},{"time":"2014-03-13T15:31","sc":1153.3},{"time":"2014-03-13T15:38","sc":1169.0},{"time":"2014-03-13T15:47","sc":1169.6},{"time":"2014-03-13T16:01","sc":1156.5},{"time":"2014-03-13T16:05","sc":1171.4},{"time":"2014-03-13T16:19","sc":1140.3},{"time":"2014-03-13T16:32","sc":1169.6},{"time":"2014-03-13T16:42","sc":1125.5},{"time":"2014-03-13T16:50","sc":1128.7}
                  ]},
                  "mark": {"type": "circle", "size": 100, "opacity": 1, "color": "black"},
                  "encoding": {
                    "y": {"field": "sc", "type": "quantitative", "scale": {"domain": [1100, 1200], "nice": false, "zero": false},
                          "axis": {"title": null, "format": "d", "values": [1100, 1120, 1140, 1160, 1180, 1200], "tickSize": 6, "labelPadding": 13}}
                  }
                },
                {
                  "data": {"values": [
                    {"time":"2014-03-12T22:51","stage":20.4},{"time":"2014-03-12T23:07","stage":20.6},{"time":"2014-03-12T23:28","stage":20.9},{"time":"2014-03-12T23:48","stage":20.9},{"time":"2014-03-13T00:02","stage":21.7},{"time":"2014-03-13T00:16","stage":22.7},{"time":"2014-03-13T00:29","stage":23.7},{"time":"2014-03-13T00:40","stage":25.0},{"time":"2014-03-13T00:46","stage":26.9},{"time":"2014-03-13T00:51","stage":29.2},{"time":"2014-03-13T00:57","stage":31.2},{"time":"2014-03-13T01:04","stage":33.1},{"time":"2014-03-13T01:10","stage":34.8},{"time":"2014-03-13T01:21","stage":35.9},{"time":"2014-03-13T01:35","stage":36.7},{"time":"2014-03-13T01:51","stage":37.4},{"time":"2014-03-13T02:05","stage":38.0},{"time":"2014-03-13T02:19","stage":37.4},{"time":"2014-03-13T02:32","stage":36.4},{"time":"2014-03-13T02:49","stage":36.7},{"time":"2014-03-13T03:06","stage":37.4},{"time":"2014-03-13T03:27","stage":37.0},{"time":"2014-03-13T03:47","stage":37.7},{"time":"2014-03-13T04:05","stage":37.7},{"time":"2014-03-13T04:22","stage":38.4},{"time":"2014-03-13T04:35","stage":39.7},{"time":"2014-03-13T04:49","stage":40.4},{"time":"2014-03-13T05:05","stage":41.6},{"time":"2014-03-13T05:23","stage":42.9},{"time":"2014-03-13T05:41","stage":44.2},{"time":"2014-03-13T05:57","stage":45.2},{"time":"2014-03-13T06:14","stage":46.8},{"time":"2014-03-13T06:27","stage":48.8},{"time":"2014-03-13T06:41","stage":51.1},{"time":"2014-03-13T06:59","stage":53.0},{"time":"2014-03-13T07:16","stage":54.0},{"time":"2014-03-13T07:33","stage":54.3},{"time":"2014-03-13T07:53","stage":55.0},{"time":"2014-03-13T08:14","stage":55.4},{"time":"2014-03-13T08:30","stage":54.7},{"time":"2014-03-13T08:48","stage":54.0},{"time":"2014-03-13T09:08","stage":53.2},{"time":"2014-03-13T09:29","stage":52.4},{"time":"2014-03-13T09:47","stage":51.4},{"time":"2014-03-13T10:00","stage":49.8},{"time":"2014-03-13T10:14","stage":47.8},{"time":"2014-03-13T10:28","stage":45.5},{"time":"2014-03-13T10:44","stage":43.9},{"time":"2014-03-13T11:00","stage":42.6},{"time":"2014-03-13T11:18","stage":41.6},{"time":"2014-03-13T11:36","stage":40.6},{"time":"2014-03-13T11:52","stage":39.7},{"time":"2014-03-13T12:09","stage":38.7},{"time":"2014-03-13T12:26","stage":37.4},{"time":"2014-03-13T12:44","stage":36.1},{"time":"2014-03-13T13:00","stage":34.4},{"time":"2014-03-13T13:17","stage":32.8},{"time":"2014-03-13T13:34","stage":31.5},{"time":"2014-03-13T13:52","stage":30.5},{"time":"2014-03-13T14:09","stage":29.5},{"time":"2014-03-13T14:25","stage":29.1},{"time":"2014-03-13T14:43","stage":28.6},{"time":"2014-03-13T15:00","stage":27.6},{"time":"2014-03-13T15:17","stage":27.3},{"time":"2014-03-13T15:27","stage":25.3},{"time":"2014-03-13T15:44","stage":24.7},{"time":"2014-03-13T16:00","stage":24.3},{"time":"2014-03-13T16:18","stage":25.6},{"time":"2014-03-13T16:32","stage":24.7},{"time":"2014-03-13T16:45","stage":24.3},{"time":"2014-03-13T16:59","stage":24.7}
                  ]},
                  "encoding": {
                    "y": {"field": "stage", "type": "quantitative", "scale": {"domain": [15, 60], "nice": false, "zero": false},
                          "axis": {"orient": "right", "title": "Stage (cm)", "values": [15, 30, 45, 60], "tickSize": 6, "labelPadding": 12, "titlePadding": 3, "minExtent": 35, "maxExtent": 35}}
                  },
                  "layer": [
                    {"mark": {"type": "line", "color": "#a5a5a5", "strokeWidth": 3}},
                    {"mark": {"type": "circle", "size": 85, "opacity": 1, "color": "#a5a5a5"}}
                  ]
                }
              ],
              "resolve": {"scale": {"y": "independent"}}
            }
          ]
        }
      ]
    },
    {"width": 1698, "height": 2, "view": {"fill": "black"}, "data": {"values": [{}]}, "mark": {"type": "point", "opacity": 0, "size": 0, "strokeWidth": 0}, "encoding": {}}
  ]
}
